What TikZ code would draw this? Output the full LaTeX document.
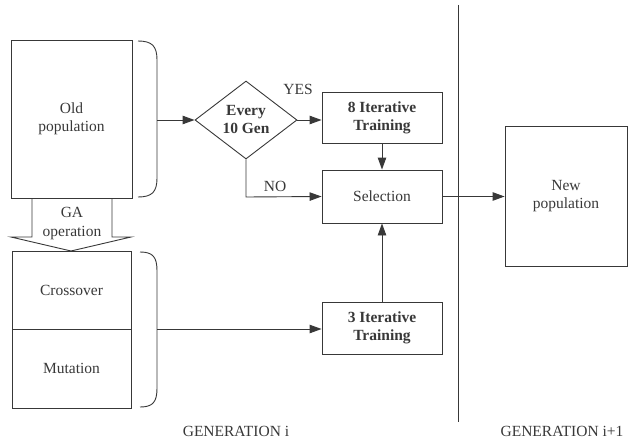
\documentclass[tikz,border=0pt]{standalone}
\usepackage{fontspec}
\setmainfont{Liberation Serif}
\usetikzlibrary{arrows.meta,shapes.geometric}
\definecolor{ink}{HTML}{383838}
\tikzset{
  x=1pt, y=-1pt,
  every node/.style={font=\fontsize{15.5}{18}\selectfont, text=ink, align=center},
  box/.style={draw=ink, line width=0.9pt, inner sep=0pt},
  flow/.style={draw=ink, line width=0.9pt, -{Triangle[length=12pt,width=8.5pt]}},
  plain/.style={draw=ink, line width=0.9pt},
  bold/.style={font=\fontsize{15.5}{18}\selectfont\bfseries},
}
\begin{document}
\begin{tikzpicture}
\useasboundingbox (0,0) rectangle (634,444);

% populations
\node[box, minimum width=121pt, minimum height=158pt] (old) at (71.5,119) {Old\\population};
\node[box, minimum width=122pt, minimum height=140pt] (new) at (566,196) {New\\population};

% GA operation block arrow
\draw[plain] (32,198) -- (32,237) -- (11,237) -- (71,251) -- (131,237) -- (112,237) -- (112,198);
\node (ga) at (72,224) {GA\\[1pt]operation};

% crossover / mutation
\node[box, minimum width=119pt, minimum height=78pt] (cross) at (71.5,290) {Crossover};
\node[box, minimum width=119pt, minimum height=79pt] (mut) at (71.5,368.5) {Mutation};

% brackets grouping the populations
\draw[plain] (138,41) .. controls (152,41) and (157,46) .. (157,60) -- (157,178) .. controls (157,192) and (152,197) .. (138,197);
\draw[plain] (140,252) .. controls (153,252) and (157,257) .. (157,271) -- (157,388) .. controls (157,402) and (153,407) .. (140,407);
\coordinate (b1) at (157,120);
\coordinate (b2) at (157,329);

% decision and training
\node[draw=ink, line width=0.9pt, diamond, aspect=1.31, minimum width=102pt, minimum height=78pt, inner sep=0pt, bold] (dia) at (246,120) {Every\\10 Gen};
\node[box, minimum width=120pt, minimum height=51pt, bold] (it8) at (382,117.5) {8 Iterative\\Training};
\node[box, minimum width=120pt, minimum height=53pt] (sel) at (382,196.5) {Selection};
\node[box, minimum width=120pt, minimum height=52pt, bold] (it3) at (382,328) {3 Iterative\\Training};

\coordinate (nobend) at (246,197);
\node (yes) at (298,89) {YES};
\node (no) at (275,186) {NO};

% connectors
\draw[flow] (b1) -- (dia.west);
\draw[flow] (dia.east) -- (it8.west |- dia.east);
\draw[flow] (it8.south) -- (sel.north);
\draw[flow] (dia.south) -- (nobend) -- (sel.west);
\draw[flow] (b2) -- (it3.west |- b2);
\draw[flow] (it3.north) -- (sel.south);
\draw[flow] (sel.east) -- (new.west |- sel.east);

% generation divider
\coordinate (dtop) at (458,5);
\coordinate (dbot) at (458,422);
\draw[plain] (dtop) -- (dbot);
\node (geni) at (236,431) {GENERATION i};
\node (genj) at (562,431) {GENERATION i+1};
\end{tikzpicture}
\end{document}
